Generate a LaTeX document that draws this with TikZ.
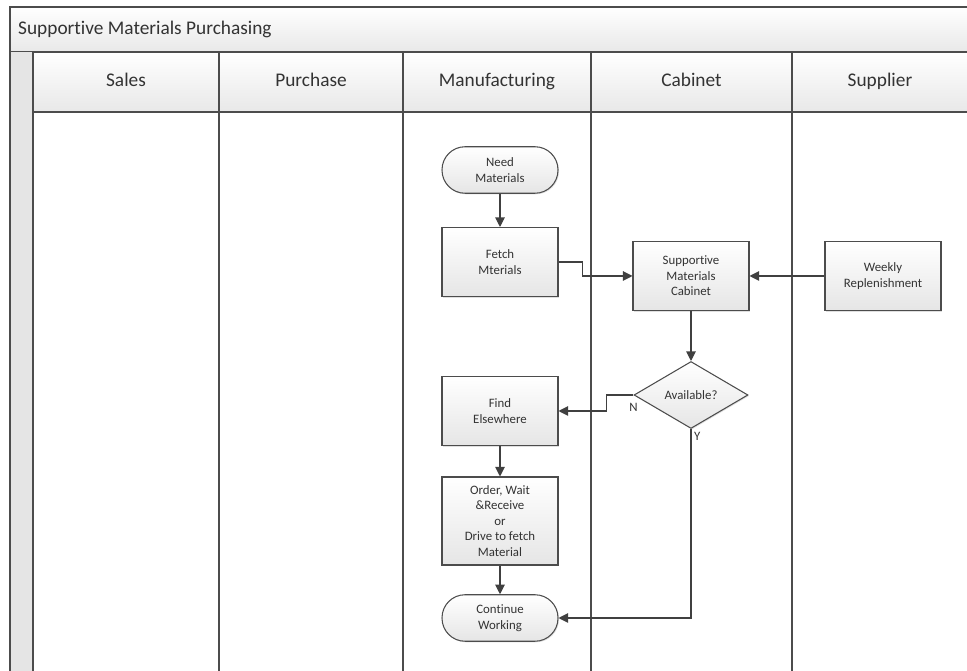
\documentclass[tikz,border=0pt]{standalone}
\usepackage{fontspec}
\setmainfont{Carlito}[Ligatures=NoCommon]
\usetikzlibrary{shapes.geometric,arrows.meta,positioning,shadows}
\tikzset{
	lane/.style={draw=black!70,line width=0.6pt},
	hdr/.style={lane,top color=white,bottom color=black!9},
	head/.style={font=\fontsize{11}{13}\selectfont,text=black!80},
	box/.style={draw=black!70,line width=0.6pt,top color=white,bottom color=black!10,align=center,text=black!80,font=\fontsize{7.3}{8.8}\selectfont,minimum width=2.32cm,minimum height=1.38cm,inner sep=2pt,drop shadow={shadow xshift=0.6pt,shadow yshift=-0.6pt,opacity=0.25}},
	term/.style={box,rounded corners=0.46cm,minimum height=0.93cm},
	decide/.style={diamond,aspect=1.7,draw=black!70,line width=0.6pt,top color=white,bottom color=black!10,text=black!80,font=\fontsize{7.3}{8.8}\selectfont,minimum width=2.28cm,minimum height=1.34cm,inner sep=0pt,drop shadow={shadow xshift=0.6pt,shadow yshift=-0.6pt,opacity=0.25}},
	lbl/.style={font=\fontsize{7.3}{8.8}\selectfont,text=black!80,inner sep=1.5pt},
	arr/.style={-{Triangle[length=1.9mm,width=1.9mm]},draw=black!75,line width=0.6pt}
}
\begin{document}
\begin{tikzpicture}[x=0.02cm,y=-0.02cm]
	\useasboundingbox (0,0) rectangle (967,671);
	\clip (0,0) rectangle (967,671);
	% pool and lanes
	\draw[hdr] (10,7) rectangle (1000,52);
	\node[head,anchor=base west] (title) at (12,35) {Supportive Materials Purchasing};
	\fill[black!10] (10,52) rectangle (33,700);
	\draw[lane] (10,52) -- (10,700);
	\foreach \l/\r/\t in {33/219/Sales,219/403/Purchase,403/591/Manufacturing,591/792/Cabinet,792/968/Supplier}{
		\draw[hdr] (\l,52) rectangle (\r,112);
		\node[head,anchor=base] (h-\t) at ({(\l+\r)/2},87) {\t};
		\draw[lane] (\l,112) -- (\l,700);
	}
	% flow
	\node[term] (need) at (500,170) {Need\\Materials};
	\node[box] (fetch) at (500,262) {Fetch\\Mterials};
	\node[box] (cab) at (691,276) {Supportive\\Materials\\Cabinet};
	\node[box] (weekly) at (883,276) {Weekly\\Replenishment};
	\node[decide] (avail) at (691,395) {Available?};
	\node[box] (find) at (500,411) {Find\\Elsewhere};
	\node[box,minimum height=1.76cm] (order) at (500,521) {Order, Wait\\\&Receive\\or\\Drive to fetch\\Material};
	\node[term] (cont) at (500,618) {Continue\\Working};
	\draw[arr] (need) -- (fetch);
	\draw[arr] (fetch.east) -- ++(24,0) |- (cab.west);
	\draw[arr] (weekly) -- (cab);
	\draw[arr] (cab) -- (avail);
	\draw[arr] (avail.west) node[lbl,below=3pt] (n) {N} -- ++(-27,0) |- (find.east);
	\draw[arr] (avail.south) node[lbl,below right] (y) {Y} -- (avail.south |- cont.east) -- (cont.east);
	\draw[arr] (find) -- (order);
	\draw[arr] (order) -- (cont);
\end{tikzpicture}
\end{document}
